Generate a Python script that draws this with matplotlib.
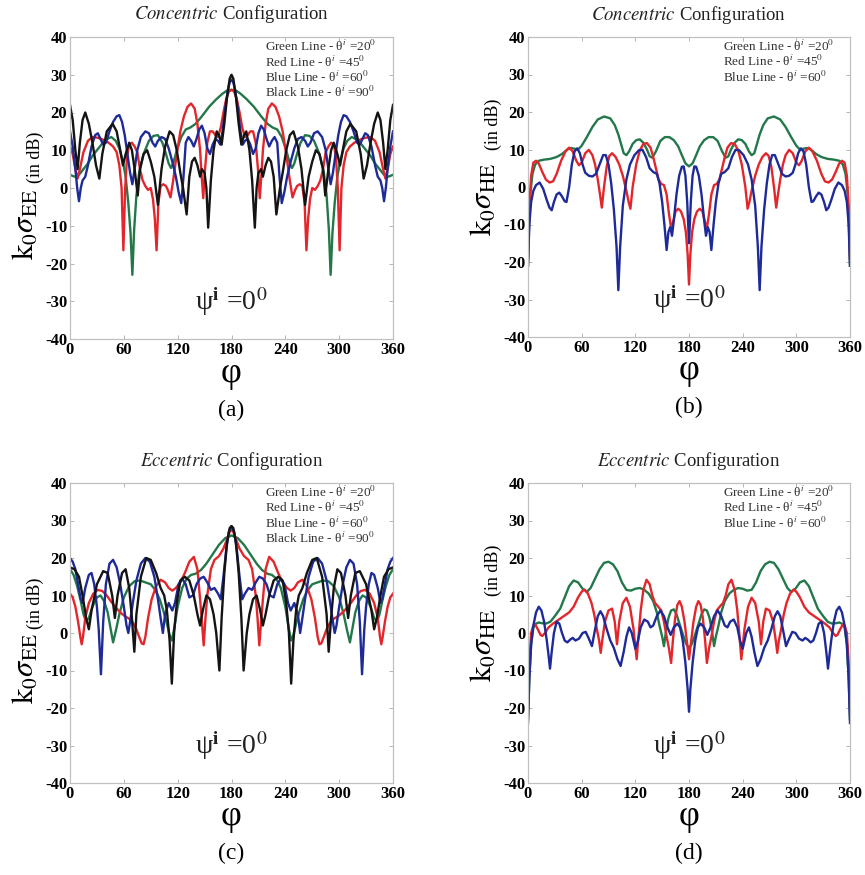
import numpy as np
import matplotlib
matplotlib.use('Agg')
import matplotlib.pyplot as plt

plt.rcParams['font.family'] = ['Liberation Serif', 'DejaVu Serif']
plt.rcParams['mathtext.fontset'] = 'stix'

# Digitised left halves (phi 0..180 deg, value in dB).
# Every pattern in the figure is mirror symmetric about phi = 180 deg.

# (a) concentric, sigma_EE
a_green = [(0, 3.5), (5, 3), (10, 3.5), (15, 5), (20, 6.5), (25, 8.5), (30, 10), (35, 11.5), (40, 12.8),
           (46, 13.5), (51, 12.5), (55, 10.5), (59, 7), (62, 3), (65, -4), (67.5, -12), (69.5, -23),
           (71.5, -11), (74, -2), (77, 4), (82, 9), (88, 12.5), (93, 13.8), (98, 14), (103, 12), (107, 9),
           (110, 6.5), (112.5, 5.3), (115, 6.5), (119, 10), (124, 13.5), (129, 15.5), (134, 16), (140, 17),
           (147, 19), (155, 21.5), (163, 23.5), (170, 25), (175, 25.8), (180, 26)]
a_red = [(0, 11), (3, 9), (6, 5), (8.5, 2.5), (11, 5), (15, 9.5), (20, 12.5), (25, 13.5), (31, 13.3),
         (37, 12.8), (43, 12), (48, 11), (52, 9.5), (55, 6), (57.5, 0), (59.5, -16.5), (61.5, 0), (63.5, 8),
         (66, 11.5), (69, 12), (72, 11), (75, 9.5), (78, 5), (81, 2), (84, 0.5), (87, -0.5), (90, 0),
         (92.5, -3), (94.5, -8), (96.5, -16.5), (98.5, -4), (101, 0.5), (104, 1), (107, 0.5), (109, -0.5),
         (112, -2.5), (115, 2), (119, 9), (123, 15), (127, 19), (131, 21.5), (135, 22.4), (139, 21),
         (142, 17), (145, 10), (146.5, 4), (148.5, -2.7), (150.5, 5), (153, 12), (156, 15), (159, 15),
         (162, 14), (165, 13.5), (168, 16), (171, 20), (174, 23.5), (177, 25.5), (180, 26)]
a_blue = [(0, 15), (3, 11), (6, 5), (8, 0), (10, -3.5), (12, 0), (14, 2), (17, 3), (20, 6), (24, 11),
          (28, 14), (31, 14.5), (34, 13), (37, 11.5), (40, 12), (44, 15), (48, 17.5), (52, 19), (55, 19.3),
          (58, 17.5), (61, 14), (64, 9), (67, 4), (69.5, 1), (72, 5), (75, 10), (79, 13.5), (84, 15),
          (88, 14.5), (92, 12), (95, 11), (98, 12.5), (102, 13.5), (106, 13), (110, 10.5), (114, 7),
          (118, 3), (121, -1), (124, -4), (126.5, 3), (129, 12), (132, 13.5), (135, 12.5), (138, 11),
          (141, 13), (144, 15.5), (147, 16.5), (150, 14.5), (153, 10.5), (156, 9), (159, 11.5), (162, 13),
          (165, 12.5), (167.5, 11.5), (170, 15), (173, 21), (176, 26), (178, 28), (180, 28.7)]
a_black = [(0, 22), (3, 18), (6, 10), (8.5, 5), (11, 12), (14, 18), (17, 20), (21, 17), (25, 12), (29, 6),
           (32.7, 2.5), (36, 9), (41, 15), (47.5, 17), (52, 15), (56, 10), (59, 6), (62, 9), (66, 12),
           (69, 10), (72, 5), (75.5, -2), (78, 5), (82, 9), (86, 10), (90, 7), (94, 3), (98, -4.5),
           (102, 5), (106, 11), (111, 15), (115, 14), (119, 10), (123, 4), (126, 0), (130, -7), (133, 3),
           (136, 7), (139, 8), (142, 6), (145, 3), (147, 5), (150, 4), (152, 0), (154, -10.5), (157, 2),
           (160, 10), (163.5, 15), (166, 14), (169, 11.5), (172, 17), (175, 24), (178, 29), (180, 30)]

# (b) concentric, sigma_HE
b_green = [(0, -21), (1, -12), (2.5, -2), (5, 3.5), (8, 6), (12, 7), (18, 7.3), (25, 7.5), (32, 8),
           (38, 8.8), (44, 10), (48, 10.4), (52, 10.2), (56, 10), (60, 11), (66, 13.4), (72, 16), (78, 18),
           (85, 18.8), (92, 18.3), (97, 16.5), (101, 14), (104, 11.5), (107, 9), (110, 8.5), (113, 9.5),
           (117, 11.5), (121, 12.5), (125, 12.7), (129, 11.8), (133, 10), (136, 8.2), (139, 7.8),
           (143, 9.5), (148, 12.3), (153, 13.3), (158, 13.3), (163, 12.5), (168, 10.8), (172, 8.5),
           (176, 6.3), (180, 5.5)]
b_red = [(0, -19), (1.5, -5), (3.5, 3), (6, 6.5), (9, 7), (12, 6.3), (16, 4), (20, 2), (24, 1.2), (28, 1.5),
         (32, 3.5), (37, 7), (42, 9.5), (46, 10.5), (50, 9.5), (54, 7), (57, 5.8), (60, 6.5), (64, 9),
         (68, 9.9), (72, 8.5), (75, 6), (78, 2), (80.5, -2), (82.5, -5.5), (85, 0), (88, 5.5), (91, 8.3),
         (94, 9), (98, 8), (102, 6), (106, 3), (110, -1), (112.5, -4), (114.5, -5.8), (117, 0), (121, 6),
         (125, 9.8), (129, 11.5), (133, 11.7), (137, 10.5), (140, 8), (143, 5), (146, 2), (149, 0.8),
         (152, 0.5), (155, -2), (157.5, -7), (160, -11), (162.5, -9), (165, -6.5), (168, -5.8),
         (171, -6.5), (174, -8.5), (176.5, -12), (178.5, -18), (180, -26)]
b_blue = [(0, -21), (1.5, -10), (3.5, -4), (6, -1), (9, 0.5), (13, 1.2), (17, -0.5), (21, -3.5), (24, -5.5),
          (26.5, -6.2), (29, -4), (32, -2), (35, -1.5), (38, -2.5), (41, -3.8), (43, -4), (46, 0), (49, 6),
          (52, 9.5), (55, 10.3), (58, 9), (61, 6), (64, 3.8), (68, 3), (72, 2.8), (76, 3.5), (80, 6),
          (84, 8.5), (87, 8.5), (90, 6), (93, 1), (96, -6), (99, -16), (101, -27.5), (103, -16), (106, -5),
          (110, 2), (114, 6), (119, 8.5), (124, 9.8), (128, 9.9), (132, 8), (136, 5), (140, 4), (144, 3.5),
          (147, 1), (150, -4), (152.5, -10), (155, -16.8), (157, -12), (159, -10.7), (161, -13), (163, -9),
          (166, -2), (169, 3), (172, 5.4), (174, 5.5), (176, 3), (178, -4), (180, -15)]

# (c) eccentric, sigma_EE
c_green = [(0, 17), (4, 15.5), (8, 12.5), (12, 8.5), (15, 5), (18, 3), (21, 4), (25, 7), (30, 9.5),
           (34, 10), (38, 8.5), (42, 5.5), (45, 1.5), (48, -2.5), (51, 0.5), (55, 5), (60, 9.5), (66, 12.5),
           (72, 13.8), (78, 14), (84, 13.5), (90, 13), (95, 11.5), (100, 9), (104, 6), (108, 2.5),
           (111, -0.5), (113.5, -2), (116, 1), (120, 7), (125, 12), (130, 14.5), (135, 15.5), (140, 15.8),
           (146, 16.8), (152, 18.5), (159, 21), (166, 23.5), (173, 25.3), (180, 26)]
c_red = [(0, 10.5), (3, 9.5), (6, 7), (9, 3), (11.5, -1), (13, -3), (14.5, -1), (17, 4), (21, 8),
         (26, 10.5), (31, 11.5), (36, 11.2), (41, 10), (46, 8.3), (51, 6.8), (56, 5.5), (61, 4.5),
         (66, 3.8), (70, 2.8), (74, 1), (77, -1), (80, -2.8), (82, -3), (84, -1), (87, 4), (91, 9),
         (96, 12.5), (101, 14.2), (106, 13.5), (110, 12), (114, 11.3), (118, 12), (123, 13.5), (128, 16),
         (133, 19), (138, 20.3), (142, 17), (145, 9), (147, 3), (149, -3.3), (151, 4), (153, 10),
         (157, 17), (161, 19.5), (166, 20.5), (171, 22.5), (175, 25), (178, 27), (180, 27.5)]
c_blue = [(0, 20), (3, 19), (6, 17), (9, 13), (12, 9), (14, 8), (17, 12), (21, 15.5), (24, 16), (27, 13),
          (30, 7), (32, 1), (34.5, -11), (37, 3), (40, 13), (44, 18.5), (48, 19.5), (52, 17.5), (56, 13),
          (60, 7), (63, 2), (65, 0), (67, 3), (70, 8), (74, 14), (79, 18.5), (84, 20), (89, 19), (94, 15),
          (98, 9), (101, 4), (103.5, 0), (106, 5), (110, 8), (114, 6), (117, 8), (121, 13), (125, 14.5),
          (129, 13), (133, 9.5), (137, 10), (141, 13), (145, 14.5), (149, 15), (153, 13.5), (157, 11.5),
          (161, 12), (165, 10.5), (168, 9), (171, 15), (174, 22), (177, 27), (180, 28.5)]
c_black = [(0, 17.5), (5, 17), (10, 15), (14, 10), (18, 4), (21, 1), (24, 6), (30, 13), (37, 16.5),
           (42, 16), (47, 10), (50, 4), (53, 10), (58, 16), (62, 17), (66, 12), (69, 4), (71.7, -5), (74, 5),
           (79, 15), (85, 20), (90, 19.5), (96, 16), (101, 12), (105, 10), (108, 6), (111, -2),
           (113.5, -13.5), (116, 0), (119, 8), (123, 14), (128, 15), (133, 14), (138, 10), (142, 5),
           (145, 2), (148, 6), (152, 10), (156, 9), (160, 5), (163, 0), (166.5, -10), (169, 4), (172, 16),
           (175, 24), (178, 28), (180, 28.5)]

# (d) eccentric, sigma_HE
d_green = [(0, -23), (1.5, -12), (3.5, -3), (6, 1.5), (9, 2.5), (12, 2.8), (16, 2.6), (20, 2.5), (25, 3),
           (30, 4.5), (36, 6.5), (41, 9.5), (46, 12.5), (51, 14), (56, 13.5), (61, 11.8), (66, 11),
           (70, 12), (75, 14.5), (80, 17), (85, 18.7), (90, 19), (95, 18.3), (100, 16.5), (105, 13.5),
           (110, 11.5), (115, 11.3), (120, 11.8), (125, 12), (130, 11.5), (135, 10.5), (140, 8.5),
           (144, 5.5), (147, 2), (150, -1), (152, -3.5), (154, 0), (157, 4), (160, 6), (163, 6.3),
           (166, 5), (170, 2), (174, -1), (177, -3), (180, -4)]
d_red = [(0, -20), (1.5, -8), (3.5, 0), (6, 2), (8, 2.3), (11, 1), (14, -0.5), (16, -0.8), (19, 0),
         (23, 1.5), (28, 2.5), (34, 3.5), (40, 4.5), (46, 5.5), (51, 7), (56, 9.5), (60, 11), (63, 11.6),
         (67, 10.5), (71, 8), (74, 5), (77, 1), (79.5, -2), (81.3, -5.3), (83, -2), (86, 3), (90, 6),
         (94, 6.5), (97, 3), (99.5, -3), (102, 3), (106, 8), (110, 9.4), (114, 7), (118, 1), (121.5, -7),
         (123.5, -1), (126, 6), (129, 11.5), (132.5, 14.2), (136, 13), (139, 10), (142, 8), (145, 7.2),
         (149, 6), (152, 3), (155, -1), (157.5, -4), (160, -8), (162, -2), (164.5, 4), (167, 7.5),
         (169.5, 8.5), (172, 7), (175, 3), (178, -3), (180, -7)]
d_blue = [(0, -24), (1.5, -12), (3.5, -3), (6, 2), (9, 5.5), (12, 7), (15, 6), (18, 3), (21, -2), (23, -6),
          (24.6, -9.5), (26.5, -5), (29, 0), (32, 3), (35, 2.5), (38, 0), (41, -2), (44, -2.5), (47, -1.8),
          (50, -1.3), (53, -2), (57, -1.5), (61, 0), (64.5, 0.3), (68, -1.5), (71.5, -3.5), (75, 1),
          (78, 4.5), (81, 5.8), (84, 4.5), (88, 1), (92, -2), (96, -4), (100, -7), (103.5, -8.8),
          (107, -5), (110, -1), (113, 1.5), (116, 0), (120, -4.2), (123, -2), (126, 1.5), (130, 3.6),
          (134, 3), (137, 1.5), (140, 2), (144, 4.5), (148, 6), (152, 4.5), (156, 1.5), (159.5, -0.5),
          (163, 1.5), (167, 2.5), (170, 1.5), (173, -2), (176, -8), (178.5, -15), (180, -21)]

COLORS = {'green': '#23784a', 'red': '#e3262b', 'blue': '#1d2a98', 'black': '#141414'}
LEGEND_EE = ['Green Line - θ$^{i}$ =20$^{0}$', 'Red Line - θ$^{i}$ =45$^{0}$',
             'Blue Line - θ$^{i}$ =60$^{0}$', 'Black Line - θ$^{i}$ =90$^{0}$']
LEGEND_HE = LEGEND_EE[:3]


def full_circle(pts):
    """Extend a digitised 0..180 half to 0..360 using the mirror symmetry."""
    phi = np.array([p for p, _ in pts], float)
    val = np.array([v for _, v in pts], float)
    phi = np.concatenate([phi, 360 - phi[-2::-1]])
    val = np.concatenate([val, val[-2::-1]])
    return phi, val


def draw_panel(ax, curves, title, sub, legend, ylab_pos, letter):
    for name, pts in curves:
        phi, val = full_circle(pts)
        ax.plot(phi, val, color=COLORS[name], lw=1.7, solid_joinstyle='round')

    ax.set_xlim(0, 360)
    ax.set_ylim(-40, 40)
    ax.set_xticks(range(0, 361, 60))
    ax.set_yticks(range(-40, 41, 10))
    ax.set_xticklabels([str(t) for t in range(0, 361, 60)], fontweight='bold', fontsize=12)
    ax.set_yticklabels([str(t) for t in range(-40, 41, 10)], fontweight='bold', fontsize=12)
    ax.tick_params(direction='in', length=3, width=0.6, color='#aaaaaa', top=True, right=True, pad=2)
    for sp in ax.spines.values():
        sp.set_color('#c0c0c0')
        sp.set_linewidth(0.9)

    ax.text(0.5, 1.075, r'$\mathit{' + title + '}$ Configuration', transform=ax.transAxes,
            ha='center', va='center', fontsize=13.5, color='#222222')
    for i, txt in enumerate(legend):
        ax.text(0.605, 0.968 - i * 0.051, txt, transform=ax.transAxes, ha='left', va='center',
                fontsize=9.5, color='#333333')
    ax.text(180, -30, 'ψ$^{\\mathbf{i}}$ =0$^{0}$', ha='center', va='center', fontsize=20,
            color='#222222')

    ax.text(-0.135, ylab_pos[0], r'$\mathrm{k}_0\sigma_{\mathrm{' + sub + '}}$', transform=ax.transAxes,
            rotation=90, ha='center', va='center', fontsize=22)
    ax.text(-0.108, ylab_pos[1], '(in dB)', transform=ax.transAxes, rotation=90,
            ha='center', va='center', fontsize=13)
    ax.text(0.5, -0.058, 'φ', transform=ax.transAxes, ha='center', va='top', fontsize=26)
    ax.text(0.5, -0.235, '(' + letter + ')', transform=ax.transAxes, ha='center', va='center',
            fontsize=17)


def main():
    fig = plt.figure(figsize=(8.65, 8.75), dpi=100)
    W, H = 865, 875
    boxes = {
        'a': (70, 37, 393, 339),
        'b': (528, 37, 850, 337),
        'c': (70, 483, 393, 783),
        'd': (528, 483, 850, 783),
    }
    axes = {}
    for k, (x0, y0, x1, y1) in boxes.items():
        axes[k] = fig.add_axes([x0 / W, 1 - y1 / H, (x1 - x0) / W, (y1 - y0) / H])

    draw_panel(axes['a'], [('green', a_green), ('red', a_red), ('blue', a_blue), ('black', a_black)],
               'Concentric', 'EE', LEGEND_EE, (0.38, 0.60), 'a')
    draw_panel(axes['b'], [('green', b_green), ('red', b_red), ('blue', b_blue)],
               'Concentric', 'HE', LEGEND_HE, (0.46, 0.71), 'b')
    draw_panel(axes['c'], [('green', c_green), ('red', c_red), ('blue', c_blue), ('black', c_black)],
               'Eccentric', 'EE', LEGEND_EE, (0.38, 0.60), 'c')
    draw_panel(axes['d'], [('green', d_green), ('red', d_red), ('blue', d_blue)],
               'Eccentric', 'HE', LEGEND_HE, (0.46, 0.71), 'd')

    fig.savefig('out.png', dpi=100)


if __name__ == '__main__':
    main()
